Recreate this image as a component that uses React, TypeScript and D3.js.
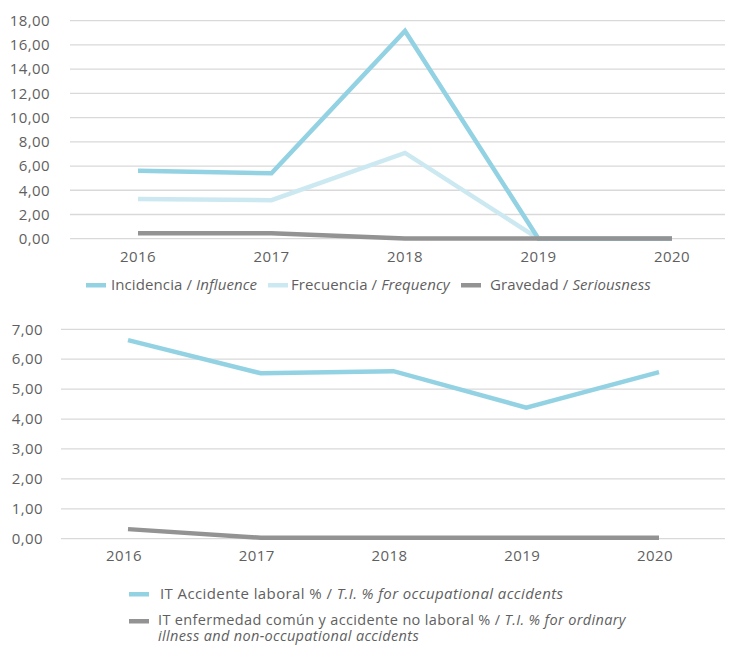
import React from "react";
import * as d3 from "d3";

// Years shared by both panels
const years = ["2016", "2017", "2018", "2019", "2020"];

// Upper panel: accident rates
const incidencia = [5.62, 5.4, 17.15, 0.0, 0.0];
const frecuencia = [3.28, 3.18, 7.08, 0.0, 0.0];
const gravedad = [0.45, 0.44, 0.02, 0.02, 0.02];
const topTicks = [0, 2, 4, 6, 8, 10, 12, 14, 16, 18];

// Lower panel: temporary incapacity percentages
const itLaboral = [6.64, 5.53, 5.6, 4.38, 5.57];
const itComun = [0.32, 0.03, 0.03, 0.03, 0.03];
const bottomTicks = [0, 1, 2, 3, 4, 5, 6, 7];

const C_INC = "#93d2e3";
const C_FREC = "#cce9f1";
const C_GRAV = "#939393";
const C_GRID = "#d9d9d9";
const C_TEXT = "#5f5f5f";
const FONT = "'Open Sans', Lato, sans-serif";
const FS = 15;
const LS = 0.4;

const fmt = (v: number) => d3.format(".2f")(v).replace(".", ",");

export default function App() {
  // Upper panel scales
  const xTop = d3.scalePoint<string>().domain(years).range([138, 672]);
  const yTop = d3.scaleLinear().domain([0, 18]).range([238.7, 20.7]);
  // Lower panel scales
  const xBot = d3.scalePoint<string>().domain(years).range([128, 659]);
  const yBot = d3.scaleLinear().domain([0, 7]).range([538.7, 329.3]);

  const lineTop = (vals: number[]) =>
    d3.line<number>().x((_, i) => xTop(years[i])!).y((d) => yTop(d))(vals) || "";
  const lineBot = (vals: number[]) =>
    d3.line<number>().x((_, i) => xBot(years[i])!).y((d) => yBot(d))(vals) || "";

  const topLegend = [
    { color: C_INC, sx: 86, tx: 111, main: "Incidencia / ", it: "Influence" },
    { color: C_FREC, sx: 268, tx: 291, main: "Frecuencia / ", it: "Frequency" },
    { color: C_GRAV, sx: 461, tx: 490, main: "Gravedad / ", it: "Seriousness" },
  ];

  return (
    <svg
      width={735}
      height={645}
      style={{ position: "absolute", left: 0, top: 0, background: "#fff" }}
      fontFamily={FONT}
      fontSize={FS}
      letterSpacing={LS}
    >
      {/* Upper panel grid and y labels */}
      {topTicks.map((t) => (
        <g key={"tt" + t}>
          <line x1={70} x2={725} y1={yTop(t)} y2={yTop(t)} stroke={C_GRID} strokeWidth={1.3} />
          <text x={50} y={yTop(t)} dy="0.35em" textAnchor="end" fill={C_TEXT}>
            {fmt(t)}
          </text>
        </g>
      ))}
      {years.map((y) => (
        <text key={"xt" + y} x={xTop(y)} y={262} textAnchor="middle" fill={C_TEXT}>
          {y}
        </text>
      ))}
      <path d={lineTop(frecuencia)} fill="none" stroke={C_FREC} strokeWidth={4.5} />
      <path d={lineTop(incidencia)} fill="none" stroke={C_INC} strokeWidth={4.5} />
      <path d={lineTop(gravedad)} fill="none" stroke={C_GRAV} strokeWidth={4.5} />

      {topLegend.map((l) => (
        <g key={l.main}>
          <rect x={l.sx} y={283} width={20} height={4.5} fill={l.color} />
          <text x={l.tx} y={290} fill={C_TEXT} letterSpacing={0.1}>
            {l.main}
            <tspan fontStyle="italic">{l.it}</tspan>
          </text>
        </g>
      ))}

      {/* Lower panel grid and y labels */}
      {bottomTicks.map((t) => (
        <g key={"bt" + t}>
          <line x1={61} x2={725} y1={yBot(t)} y2={yBot(t)} stroke={C_GRID} strokeWidth={1.3} />
          <text x={43} y={yBot(t)} dy="0.35em" textAnchor="end" fill={C_TEXT}>
            {fmt(t)}
          </text>
        </g>
      ))}
      {years.map((y) => (
        <text key={"xb" + y} x={xBot(y)! - 4} y={561} textAnchor="middle" fill={C_TEXT}>
          {y}
        </text>
      ))}
      <path d={lineBot(itLaboral)} fill="none" stroke={C_INC} strokeWidth={4.5} />
      <path d={lineBot(itComun)} fill="none" stroke={C_GRAV} strokeWidth={4.5} />

      {/* Lower legend */}
      <rect x={129} y={592} width={20} height={4.5} fill={C_INC} />
      <text x={160} y={599} fill={C_TEXT}>
        IT Accidente laboral % / <tspan fontStyle="italic">T.I. % for occupational accidents</tspan>
      </text>
      <rect x={129} y={619} width={20} height={4.5} fill={C_GRAV} />
      <text x={158} y={625} fill={C_TEXT} fontSize={14.5} letterSpacing={0.35}>
        IT enfermedad común y accidente no laboral % /{" "}
        <tspan fontStyle="italic">T.I. % for ordinary</tspan>
        <tspan x={158} dy={16} fontStyle="italic">
          illness and non-occupational accidents
        </tspan>
      </text>
    </svg>
  );
}
